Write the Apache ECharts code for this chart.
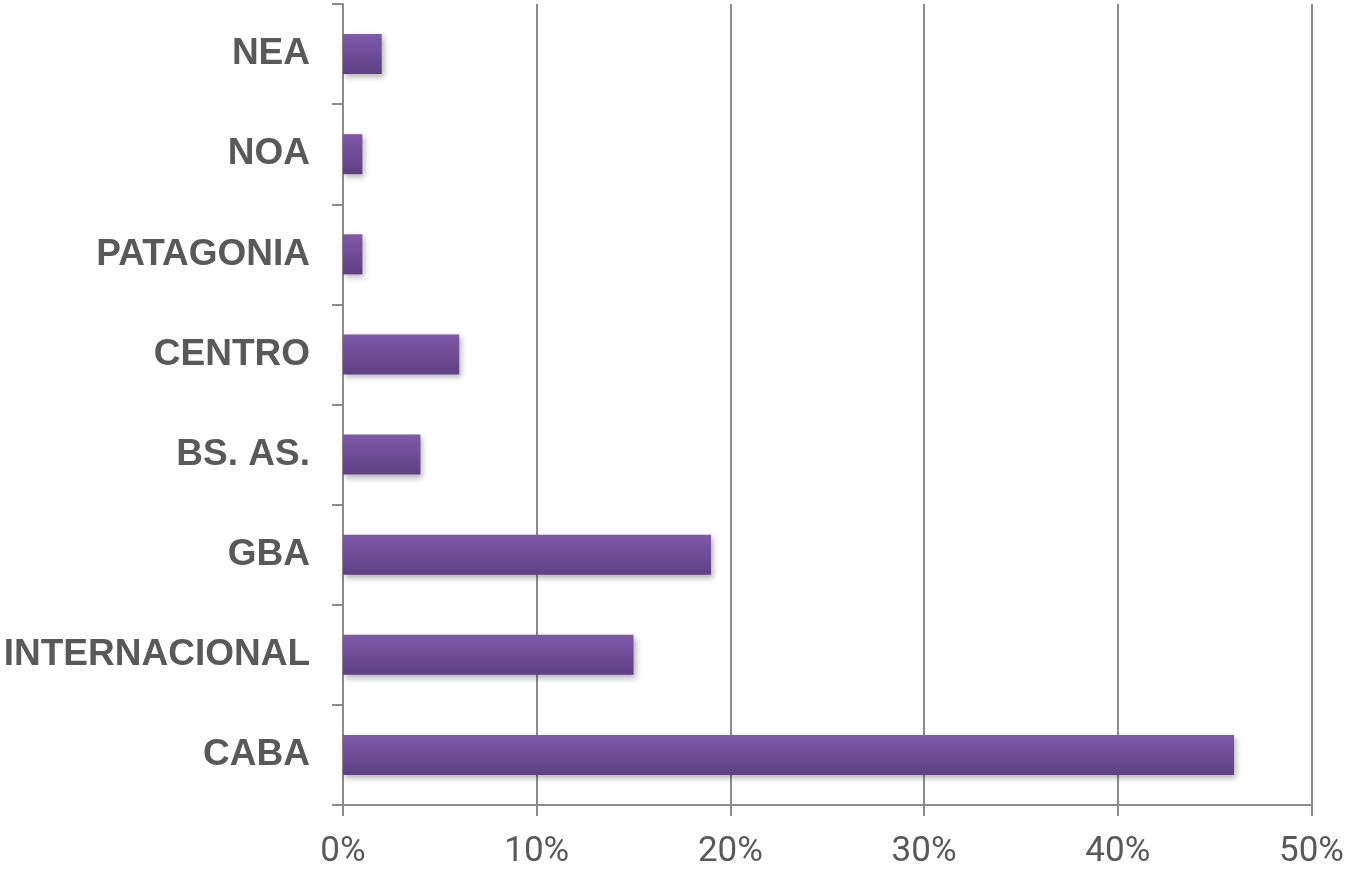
<!DOCTYPE html>
<html>
<head>
<meta charset="utf-8">
<script src="https://cdn.jsdelivr.net/npm/echarts@6/dist/echarts.min.js"></script>
<style>
  html, body { margin: 0; padding: 0; background: #fff; }
  #chart { width: 1347px; height: 870px; }
</style>
</head>
<body>
<div id="chart"></div>
<script>
// regiones, de abajo hacia arriba
const regions = ['CABA', 'INTERNACIONAL', 'GBA', 'BS. AS.', 'CENTRO', 'PATAGONIA', 'NOA', 'NEA']
const shares = [46, 15, 19, 4, 6, 1, 1, 2]
const xTicks = [0, 10, 20, 30, 40, 50]

const chart = echarts.init(document.getElementById('chart'))
const axisGray = '#8c8c8c'

chart.setOption({
  animation: false,
  grid: { left: 343, right: 27, top: 4, bottom: 60 },
  xAxis: {
    type: 'value',
    min: xTicks[0],
    max: xTicks[xTicks.length - 1],
    interval: 10,
    axisLine: { show: true, lineStyle: { color: axisGray, width: 2 } },
    axisTick: { show: true, length: 11, lineStyle: { color: axisGray, width: 2 } },
    splitLine: { show: true, lineStyle: { color: axisGray, width: 2 } },
    axisLabel: {
      formatter: '{value}%',
      fontFamily: 'Roboto',
      fontSize: 35,
      color: '#595959',
      margin: 30
    }
  },
  yAxis: {
    type: 'category',
    data: regions,
    axisLine: { show: true, lineStyle: { color: axisGray, width: 2 } },
    axisTick: { show: true, length: 11, lineStyle: { color: axisGray, width: 2 } },
    axisLabel: {
      fontFamily: 'Liberation Sans',
      fontWeight: 'bold',
      fontSize: 37,
      color: '#595959',
      margin: 33
    }
  },
  series: [{
    type: 'bar',
    data: shares,
    barWidth: 40,
    itemStyle: {
      color: new echarts.graphic.LinearGradient(0, 0, 0, 1, [
        { offset: 0, color: '#7f59a9' },
        { offset: 1, color: '#5d4182' }
      ]),
      shadowColor: 'rgba(0,0,0,0.3)',
      shadowBlur: 6,
      shadowOffsetX: 2,
      shadowOffsetY: 3
    }
  }]
})
</script>
</body>
</html>
